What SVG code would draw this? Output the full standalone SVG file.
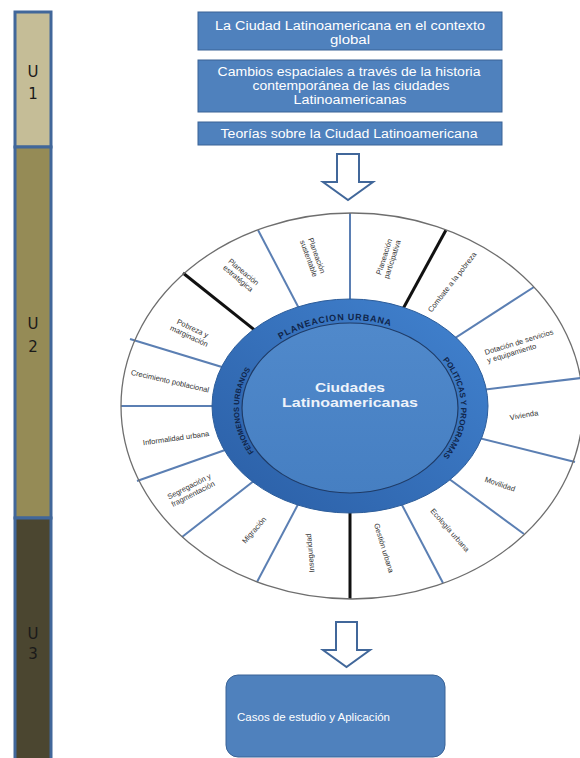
<svg xmlns="http://www.w3.org/2000/svg" width="580" height="758" viewBox="0 0 580 758">
<defs>
<style>
.box{fill:#4f81bd;stroke:#3a6396;stroke-width:1}
.bt{font-family:"Liberation Sans",Arial,sans-serif;font-size:12px;fill:#ffffff;text-anchor:middle}
.lbl{font-family:"Liberation Sans",Arial,sans-serif;font-size:7.5px;fill:#333333;text-anchor:middle}
.spk{stroke:#5b7fb3;stroke-width:2}
.spkb{stroke:#111111;stroke-width:3}
.rt{font-family:"Liberation Sans",Arial,sans-serif;font-weight:bold;fill:#10254a}
.u{font-family:"DejaVu Sans",sans-serif;font-size:15px;fill:#1a1a1a;text-anchor:middle}
.arr{fill:#ffffff;stroke:#41679a;stroke-width:2}
</style>
<linearGradient id="ringG" x1="1" y1="0" x2="0" y2="1">
<stop offset="0" stop-color="#4283d0"/>
<stop offset="1" stop-color="#2a5ea5"/>
</linearGradient>
<linearGradient id="innerG" x1="0" y1="0" x2="0" y2="1">
<stop offset="0" stop-color="#5089cb"/>
<stop offset="1" stop-color="#467fc2"/>
</linearGradient>
<path id="arcTop" d="M239,408 A111,88 0 0 1 461,408"/>
<path id="arcRight" d="M350,320 A111,88 0 0 1 350,496"/>
<path id="arcLeft" d="M350,496 A111,88 0 0 1 350,320"/>
</defs>

<rect width="580" height="758" fill="#ffffff"/>

<!-- left units bar -->
<g id="u1">
<rect x="15" y="12" width="36" height="135" fill="#c5bd97" stroke="#41679a" stroke-width="3"/>
<text class="u" x="33" y="77">U</text>
<text class="u" x="33" y="99">1</text>
</g>
<g id="u2">
<rect x="15" y="147" width="36" height="371" fill="#958b56" stroke="#41679a" stroke-width="3"/>
<text class="u" x="33" y="329">U</text>
<text class="u" x="33" y="352">2</text>
</g>
<g id="u3">
<rect x="15" y="518" width="36" height="244" fill="#4b4630" stroke="#41679a" stroke-width="3"/>
<text class="u" x="33" y="639">U</text>
<text class="u" x="33" y="659">3</text>
</g>

<!-- top boxes -->
<g id="box1">
<rect class="box" x="198" y="12" width="304" height="38"/>
<text class="bt" x="350" y="30" textLength="270" lengthAdjust="spacingAndGlyphs">La Ciudad Latinoamericana en el contexto</text>
<text class="bt" x="350" y="44" textLength="40" lengthAdjust="spacingAndGlyphs">global</text>
</g>
<g id="box2">
<rect class="box" x="198" y="60" width="304" height="52"/>
<text class="bt" x="349" y="76" textLength="263" lengthAdjust="spacingAndGlyphs">Cambios espaciales a través de la historia</text>
<text class="bt" x="351" y="89.5" textLength="197" lengthAdjust="spacingAndGlyphs">contemporánea de las ciudades</text>
<text class="bt" x="350" y="103.5" textLength="113" lengthAdjust="spacingAndGlyphs">Latinoamericanas</text>
</g>
<g id="box3">
<rect class="box" x="198" y="122" width="304" height="23"/>
<text class="bt" x="349" y="138" textLength="257" lengthAdjust="spacingAndGlyphs">Teorías sobre la Ciudad Latinoamericana</text>
</g>

<!-- arrows -->
<g id="connectors">
<polygon class="arr" points="337,154 359,154 359,182 373,182 348,200 323,182 337,182"/>
<polygon class="arr" points="336,622 357,622 357,650 370,650 346.5,667 323,650 336,650"/>
</g>

<!-- wheel -->
<g id="wheel">
<ellipse cx="352" cy="406" rx="231" ry="193" fill="#ffffff"/>
<g id="spokes">
<line class="spk" x1="350" y1="406" x2="350" y2="213"/>
<line class="spkb" x1="350" y1="406" x2="446" y2="230"/>
<line class="spk" x1="350" y1="406" x2="534" y2="287"/>
<line class="spk" x1="350" y1="406" x2="581" y2="378"/>
<line class="spk" x1="350" y1="406" x2="575" y2="462"/>
<line class="spk" x1="350" y1="406" x2="524" y2="534"/>
<line class="spk" x1="350" y1="406" x2="443" y2="583"/>
<line class="spkb" x1="350" y1="406" x2="350" y2="599"/>
<line class="spk" x1="350" y1="406" x2="257" y2="582"/>
<line class="spk" x1="350" y1="406" x2="182" y2="537"/>
<line class="spk" x1="350" y1="406" x2="137" y2="481"/>
<line class="spk" x1="350" y1="406" x2="121" y2="406"/>
<line class="spk" x1="350" y1="406" x2="130" y2="339"/>
<line class="spkb" x1="350" y1="406" x2="183" y2="273"/>
<line class="spk" x1="350" y1="406" x2="258" y2="230"/>
</g>
<ellipse cx="352" cy="406" rx="231" ry="193" fill="none" stroke="#6e6e6e" stroke-width="1.3"/>
<ellipse cx="350" cy="406" rx="138" ry="107" fill="url(#ringG)" stroke="#2d5d9a" stroke-width="1"/>
<ellipse cx="350" cy="408" rx="108" ry="85" fill="url(#innerG)" stroke="#1f3b66" stroke-width="1.2"/>
</g>

<g id="center">
<text x="350" y="392" font-family="Liberation Sans, Arial, sans-serif" font-weight="bold" font-size="13" fill="#eef3fa" text-anchor="middle" textLength="70" lengthAdjust="spacingAndGlyphs">Ciudades</text>
<text x="350" y="407" font-family="Liberation Sans, Arial, sans-serif" font-weight="bold" font-size="13" fill="#eef3fa" text-anchor="middle" textLength="136" lengthAdjust="spacingAndGlyphs">Latinoamericanas</text>
</g>

<g id="ring-labels">
<text class="rt" font-size="9" letter-spacing="0.8"><textPath href="#arcTop" startOffset="45%" text-anchor="middle">PLANEACION URBANA</textPath></text>
<text class="rt" font-size="8"><textPath href="#arcRight" startOffset="50%" text-anchor="middle">POLITICAS Y PROGRAMAS</textPath></text>
<text class="rt" font-size="7.5"><textPath href="#arcLeft" startOffset="49%" text-anchor="middle">FENOMENOS URBANOS</textPath></text>
</g>

<g id="labels">
<g id="l-participativa" transform="translate(388,258) rotate(-72)"><text class="lbl" y="-1.5">Planeación</text><text class="lbl" y="7">participativa</text></g>
<g id="l-combate" transform="translate(452,282) rotate(-52)"><text class="lbl" y="2.7">Combate a la pobreza</text></g>
<g id="l-dotacion" transform="translate(485,353) rotate(-17)"><text class="lbl" style="text-anchor:start" y="2">Dotación de servicios</text><text class="lbl" style="text-anchor:start" y="10.5">y equipamiento</text></g>
<g id="l-vivienda" transform="translate(524,415) rotate(-10)"><text class="lbl" y="2.7">Vivienda</text></g>
<g id="l-movilidad" transform="translate(500,484) rotate(19)"><text class="lbl" y="2.7">Movilidad</text></g>
<g id="l-ecologia" transform="translate(450,530) rotate(49)"><text class="lbl" y="2.7">Ecología urbana</text></g>
<g id="l-gestion" transform="translate(384,548) rotate(73)"><text class="lbl" y="2.7">Gestión urbana</text></g>
<g id="l-inseguridad" transform="translate(310,553) rotate(-95)"><text class="lbl" y="2.7">Inseguridad</text></g>
<g id="l-migracion" transform="translate(254,530) rotate(-49)"><text class="lbl" y="2.7">Migración</text></g>
<g id="l-segregacion" transform="translate(191,490) rotate(-27)"><text class="lbl" y="-1.5">Segregación y</text><text class="lbl" y="7">fragmentación</text></g>
<g id="l-informalidad" transform="translate(176,438) rotate(-8)"><text class="lbl" y="2.7">Informalidad urbana</text></g>
<g id="l-crecimiento" transform="translate(170,381) rotate(13)"><text class="lbl" y="2.7">Crecimiento poblacional</text></g>
<g id="l-pobreza" transform="translate(191,332) rotate(25)"><text class="lbl" y="-1.5">Pobreza y</text><text class="lbl" y="7">marginación</text></g>
<g id="l-estrategica" transform="translate(241,275) rotate(40)"><text class="lbl" y="-1.5">Planeación</text><text class="lbl" y="7">estratégica</text></g>
<g id="l-sustentable" transform="translate(313,257) rotate(70)"><text class="lbl" y="-1.5">Planeación</text><text class="lbl" y="7">sustentable</text></g>
</g>

<!-- bottom box -->
<g id="box4">
<rect class="box" x="226" y="675" width="219" height="82" rx="12"/>
<text x="237" y="721" font-family="Liberation Sans, Arial, sans-serif" font-size="10" fill="#ffffff" textLength="153" lengthAdjust="spacingAndGlyphs">Casos de estudio y Aplicación</text>
</g>
</svg>
